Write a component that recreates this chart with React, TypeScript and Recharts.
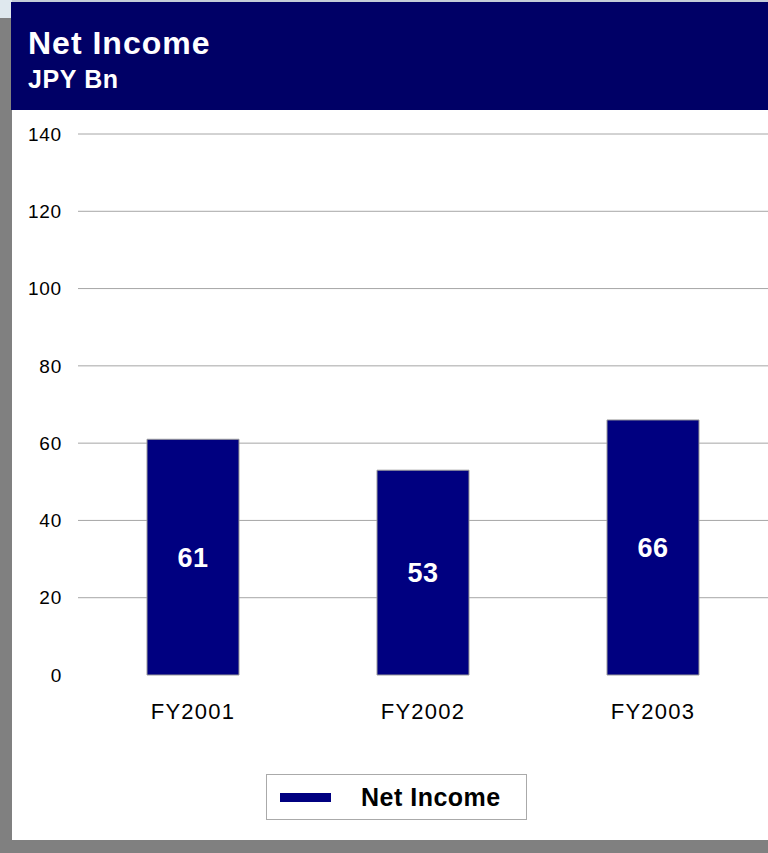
import { Bar, BarChart, CartesianGrid, LabelList, Legend, XAxis, YAxis } from "recharts";

const categories = ["FY2001", "FY2002", "FY2003"];
const netIncome = [61, 53, 66];
const yTicks = [0, 20, 40, 60, 80, 100, 120, 140];
const gridTicks = [20, 40, 60, 80, 100, 120, 140];

const FONT = '"Liberation Sans", Arial, sans-serif';
const NAVY = "#000080";

const data = categories.map((c, i) => ({ name: c, netIncome: netIncome[i] }));

const LegendBox = () => (
  <div style={{ paddingLeft: 254, fontFamily: FONT }}>
    <div
      style={{
        width: 259,
        height: 44,
        border: "1px solid #aaaaaa",
        display: "flex",
        alignItems: "center",
        background: "#fff",
      }}
    >
      <div style={{ width: 51, height: 9, background: NAVY, marginLeft: 13 }} />
      <span
        style={{
          marginLeft: 30,
          fontSize: 25,
          fontWeight: "bold",
          letterSpacing: 0.5,
          color: "#000",
        }}
      >
        Net Income
      </span>
    </div>
  </div>
);

export default function App() {
  return (
    <div
      style={{
        position: "absolute",
        left: 0,
        top: 0,
        width: 768,
        height: 853,
        background: "#808080",
        overflow: "hidden",
        fontFamily: FONT,
      }}
    >
      <div style={{ position: "absolute", left: 0, top: 0, width: 12, height: 18, background: "#dfe8ee" }} />
      <div style={{ position: "absolute", left: 12, top: 0, width: 756, height: 2, background: "#c4ccd8" }} />
      <div
        style={{
          position: "absolute",
          left: 11,
          top: 2,
          width: 757,
          height: 108,
          background: "#000066",
          color: "#fff",
        }}
      >
        <div
          style={{
            position: "absolute",
            left: 17,
            top: 23,
            fontSize: 32,
            fontWeight: "bold",
            letterSpacing: 1,
            lineHeight: "36px",
          }}
        >
          Net Income
        </div>
        <div
          style={{
            position: "absolute",
            left: 17,
            top: 63,
            fontSize: 25,
            fontWeight: "bold",
            letterSpacing: 0.6,
            lineHeight: "28px",
          }}
        >
          JPY Bn
        </div>
      </div>
      <div style={{ position: "absolute", left: 12, top: 110, width: 756, height: 730, background: "#fff" }}>
        <BarChart
          width={756}
          height={730}
          data={data}
          margin={{ top: 24, right: 0, bottom: 20, left: 0 }}
          barCategoryGap="30%"
          style={{ fontFamily: FONT }}
        >
          <CartesianGrid
            vertical={false}
            stroke="#a6a6a6"
            horizontalCoordinatesGenerator={({ offset }: any) =>
              gridTicks.map((v) => offset.top + offset.height * (1 - v / 140))
            }
          />
          <XAxis
            dataKey="name"
            axisLine={false}
            tickLine={false}
            tickSize={0}
            tickMargin={28}
            height={99}
            interval={0}
            tick={{ fontSize: 22, fill: "#000", letterSpacing: 1.2 }}
          />
          <YAxis
            domain={[0, 140]}
            ticks={yTicks}
            width={66}
            axisLine={false}
            tickLine={false}
            tickSize={0}
            tickMargin={16}
            tick={{ fontSize: 19, fill: "#000", letterSpacing: 0.8 }}
          />
          <Legend verticalAlign="bottom" content={<LegendBox />} />
          <Bar
            dataKey="netIncome"
            name="Net Income"
            fill={NAVY}
            stroke="#999999"
            strokeWidth={1}
            isAnimationActive={false}
          >
            <LabelList
              dataKey="netIncome"
              position="center"
              fill="#ffffff"
              style={{ fontSize: 27, fontWeight: "bold", letterSpacing: 0.5 }}
            />
          </Bar>
        </BarChart>
      </div>
    </div>
  );
}
